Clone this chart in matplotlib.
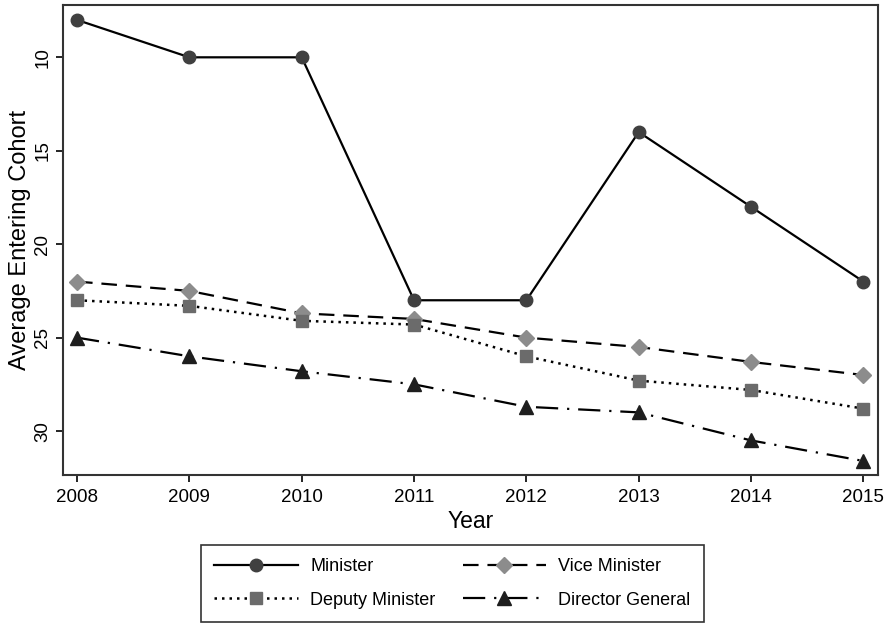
import matplotlib
matplotlib.use("Agg")
import matplotlib.pyplot as plt

plt.rcParams['font.family'] = ['Liberation Sans', 'DejaVu Sans']

years = [2008, 2009, 2010, 2011, 2012, 2013, 2014, 2015]
minister = [8, 10, 10, 23, 23, 14, 18, 22]
vice_minister = [22, 22.5, 23.7, 24, 25, 25.5, 26.3, 27]
deputy_minister = [23, 23.3, 24.1, 24.3, 26, 27.3, 27.8, 28.8]
director_general = [25, 26, 26.8, 27.5, 28.7, 29, 30.5, 31.6]

fig = plt.figure(figsize=(8.9, 6.24), dpi=100)
ax = fig.add_axes([0.0708, 0.2388, 0.9157, 0.7532])

h1, = ax.plot(years, minister, color='black', lw=1.6, marker='o', ms=9,
              mfc='#404040', mec='#404040', label='Minister')
h2, = ax.plot(years, vice_minister, color='black', lw=1.6, ls=(0, (7, 4)), marker='D', ms=8,
              mfc='#8c8c8c', mec='#8c8c8c', label='Vice Minister')
h3, = ax.plot(years, deputy_minister, color='black', lw=1.8, ls=(0, (1, 2)), marker='s', ms=8.5,
              mfc='#6b6b6b', mec='#6b6b6b', label='Deputy Minister')
h4, = ax.plot(years, director_general, color='black', lw=1.6, ls=(0, (10, 4, 1, 4)), marker='^', ms=9.5,
              mfc='#1e1e1e', mec='#1e1e1e', label='Director General')

ax.set_xlim(2007.875, 2015.13)
ax.set_ylim(32.35, 7.2)
ax.set_xticks(years)
ax.set_yticks([10, 15, 20, 25, 30])
ax.tick_params(axis='both', direction='out', length=5, width=1.2, labelsize=13.5)
ax.tick_params(axis='x', pad=5)
for lab in ax.get_yticklabels():
    lab.set_rotation(90)
    lab.set_va('center')
for s in ax.spines.values():
    s.set_linewidth(1.5)
    s.set_color('#333333')

ax.set_xlabel('Year', fontsize=16.5, labelpad=3)
ax.set_ylabel('Average Entering Cohort', fontsize=17, labelpad=2)

# matplotlib fills legend columns first, so order handles to get rows
# Minister / Vice Minister, then Deputy Minister / Director General
leg = fig.legend([h1, h3, h2, h4],
                 ['Minister', 'Deputy Minister', 'Vice Minister', 'Director General'],
                 loc='lower center', bbox_to_anchor=(0.5084, 0.003), ncol=2,
                 borderaxespad=0, fontsize=13, frameon=True, fancybox=False,
                 edgecolor='black', handlelength=4.6, handletextpad=0.7,
                 columnspacing=1.5, borderpad=0.75, labelspacing=0.9)
leg.get_frame().set_linewidth(1.2)

fig.savefig('out.png', dpi=100)
